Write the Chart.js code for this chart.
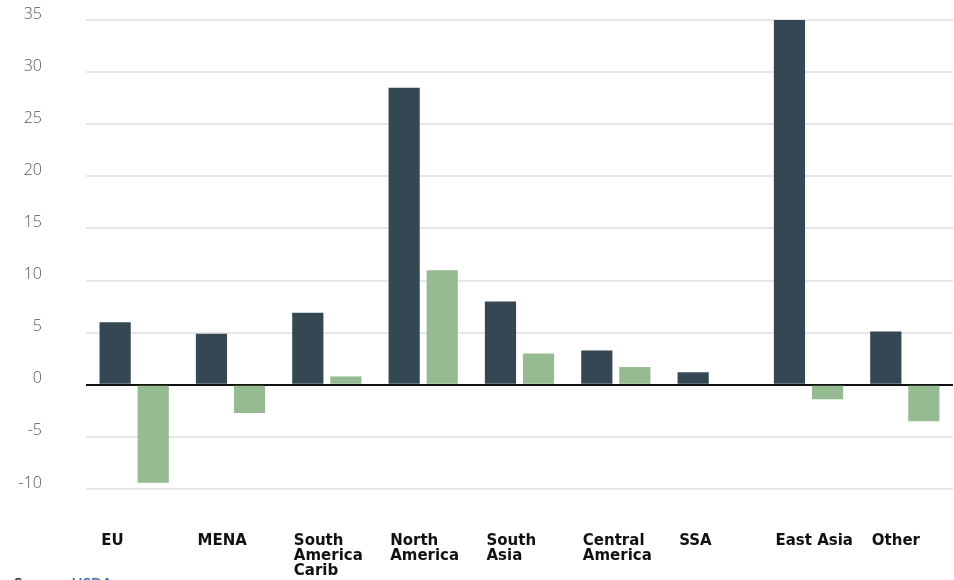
<!DOCTYPE html>
<html>
<head>
<meta charset="utf-8">
<script src="https://cdn.jsdelivr.net/npm/chart.js@4.4.1/dist/chart.umd.min.js"></script>
<style>
  html, body { margin: 0; padding: 0; background: #fff; overflow: hidden; }
  #wrap { position: relative; width: 954px; height: 580px; }
  #source {
    position: absolute; left: 14px; top: 572px;
    font: 600 15px "Open Sans", sans-serif; color: #222;
  }
  #source span { color: #2a6ab8; }
</style>
</head>
<body>
<div id="wrap">
  <canvas id="chart" width="954" height="580"></canvas>
  <div id="source">Source: <span>USDA</span></div>
</div>
<script>
const regions = [
  ["EU"], ["MENA"], ["South", "America", "Carib"], ["North", "America"],
  ["South", "Asia"], ["Central", "America"], ["SSA"], ["East Asia"], ["Other"]
];
const seriesA = [6.0, 4.9, 6.9, 28.5, 8.0, 3.3, 1.2, 35, 5.1];
const seriesB = [-9.4, -2.7, 0.8, 11.0, 3.0, 1.7, null, -1.4, -3.5];
const yMin = -10;
const yMax = 35;
const yStep = 5;

const darkColor = "#354753";
const greenColor = "#96ba91";

const ctx = document.getElementById("chart").getContext("2d");

new Chart(ctx, {
  type: "bar",
  data: {
    labels: regions,
    datasets: [
      {
        label: "A",
        data: seriesA,
        backgroundColor: darkColor,
        categoryPercentage: 0.79,
        barPercentage: 0.82,
      },
      {
        label: "B",
        data: seriesB,
        backgroundColor: greenColor,
        categoryPercentage: 0.79,
        barPercentage: 0.82,
      },
    ],
  },
  options: {
    responsive: false,
    animation: false,
    layout: { padding: { top: 20, right: 1, bottom: 0, left: 0 } },
    plugins: {
      legend: { display: false },
      tooltip: { enabled: false },
    },
    scales: {
      x: {
        afterFit: (scale) => {
          scale.height = 91;
          scale.paddingLeft = 0;
          scale.paddingRight = 0;
        },
        grid: { display: false, drawTicks: false },
        border: { display: false },
        ticks: {
          align: "start",
          labelOffset: -33,
          padding: 45,
          maxRotation: 0,
          autoSkip: false,
          color: "#111",
          font: { family: "'DejaVu Sans', sans-serif", size: 15, weight: "bold", lineHeight: 1.0 },
        },
      },
      y: {
        min: yMin,
        max: yMax,
        afterFit: (scale) => {
          scale.width = 86;
          scale.paddingTop = 0;
          scale.paddingBottom = 0;
        },
        border: { display: false },
        grid: {
          drawTicks: false,
          color: (c) => (c.tick && c.tick.value === 0 ? "#111" : "#e6e6e6"),
          lineWidth: 2,
        },
        ticks: {
          stepSize: yStep,
          padding: 44,
          labelOffset: -6,
          color: "#555",
          font: { family: "'Open Sans', sans-serif", size: 16, weight: "300" },
        },
      },
    },
  },
});
</script>
</body>
</html>
